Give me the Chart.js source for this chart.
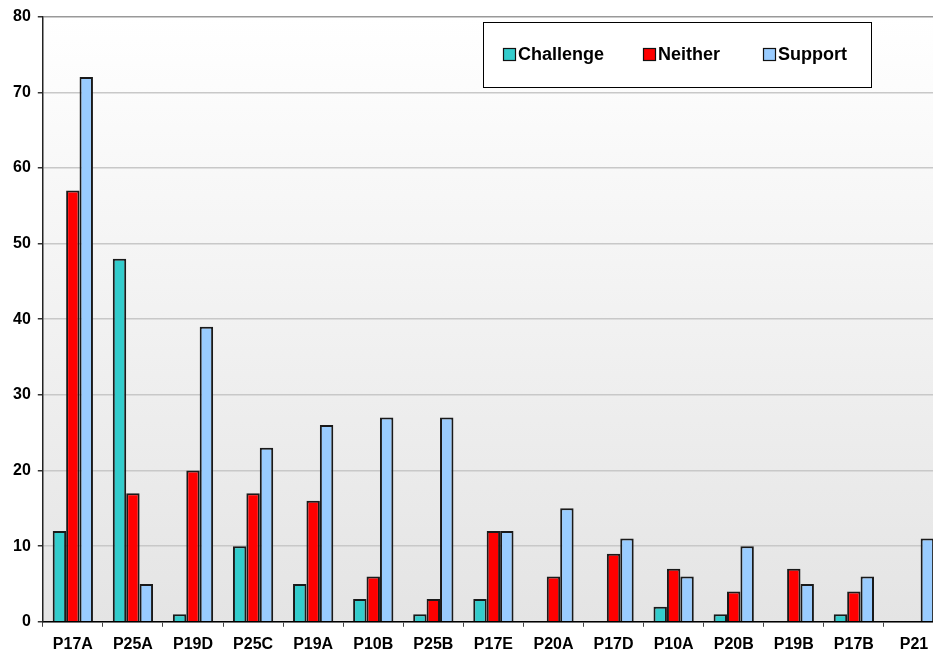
<!DOCTYPE html>
<html>
<head>
<meta charset="utf-8">
<script src="https://cdn.jsdelivr.net/npm/chart.js@4.4.1/dist/chart.umd.min.js"></script>
<style>
  html, body { margin: 0; padding: 0; background: #fff; overflow: hidden; }
  #wrap { position: relative; width: 948px; height: 662px; }
</style>
</head>
<body>
<div id="wrap"><canvas id="chart"></canvas></div>
<script>
// categories and series values
const categories = ['P17A', 'P25A', 'P19D', 'P25C', 'P19A', 'P10B', 'P25B', 'P17E',
                    'P20A', 'P17D', 'P10A', 'P20B', 'P19B', 'P17B', 'P21'];
const challenge = [12, 48, 1, 10, 5, 3, 1, 3, 0, 0, 2, 1, 0, 1, 0];
const neither   = [57, 17, 20, 17, 16, 6, 3, 12, 6, 9, 7, 4, 7, 4, 0];
const support   = [72, 5, 39, 23, 26, 27, 27, 12, 15, 11, 6, 10, 5, 6, 11];
const yTicks = [0, 10, 20, 30, 40, 50, 60, 70, 80];

const FONT = '"Liberation Sans", Arial, sans-serif';

// grey gradient behind the plot area
const backdrop = {
  id: 'backdrop',
  beforeDraw(chart) {
    const { ctx, chartArea: a } = chart;
    const g = ctx.createLinearGradient(0, a.top, 0, a.bottom);
    g.addColorStop(0, '#ffffff');
    g.addColorStop(1, '#e4e4e4');
    ctx.save();
    ctx.fillStyle = g;
    ctx.fillRect(a.left, a.top, a.right - a.left, a.bottom - a.top);
    ctx.restore();
  }
};

// boxed legend in the upper right
const boxLegend = {
  id: 'boxLegend',
  afterDraw(chart) {
    const ctx = chart.ctx;
    ctx.save();
    ctx.fillStyle = '#fff';
    ctx.fillRect(483, 22, 388, 65);
    ctx.strokeStyle = '#000';
    ctx.lineWidth = 1;
    ctx.strokeRect(483.5, 22.5, 388, 65);
    const xs = [503, 643, 763];
    ctx.font = 'bold 18px ' + FONT;
    ctx.textBaseline = 'middle';
    chart.data.datasets.forEach((ds, i) => {
      ctx.fillStyle = ds.backgroundColor;
      ctx.fillRect(xs[i], 48, 12, 12);
      ctx.strokeStyle = '#111';
      ctx.lineWidth = 1.2;
      ctx.strokeRect(xs[i] + 0.5, 48.5, 12, 12);
      ctx.fillStyle = '#000';
      ctx.fillText(ds.label, xs[i] + 15, 55);
    });
    ctx.restore();
  }
};

new Chart(document.getElementById('chart'), {
  type: 'bar',
  data: {
    labels: categories,
    datasets: [
      { label: 'Challenge', data: challenge, backgroundColor: '#33CCCC' },
      { label: 'Neither', data: neither, backgroundColor: '#FF0000' },
      { label: 'Support', data: support, backgroundColor: '#99CCFF' }
    ]
  },
  options: {
    responsive: true,
    maintainAspectRatio: false,
    animation: false,
    layout: { padding: { left: 6, right: 4, top: 7, bottom: 0 } },
    datasets: {
      bar: {
        borderColor: '#1a1a1a',
        borderWidth: 2,
        borderSkipped: 'bottom',
        categoryPercentage: 0.67,
        barPercentage: 1.0
      }
    },
    plugins: {
      legend: { display: false },
      tooltip: { enabled: false }
    },
    scales: {
      x: {
        grid: {
          display: true,
          drawOnChartArea: false,
          drawTicks: true,
          tickLength: 5,
          tickColor: '#444',
          offset: true
        },
        border: { display: true, color: '#000', width: 1.5 },
        ticks: {
          color: '#000',
          padding: 8,
          maxRotation: 0,
          autoSkip: false,
          font: { family: FONT, size: 16, weight: 'bold' }
        }
      },
      y: {
        min: 0,
        max: 80,
        afterBuildTicks(axis) {
          axis.ticks = yTicks.map(v => ({ value: v }));
        },
        grid: {
          color: ctx => (ctx.tick && ctx.tick.value === 80) ? '#999' : '#c8c8c8',
          lineWidth: 1.5,
          tickLength: 5,
          tickColor: '#333'
        },
        border: { display: true, color: '#222', width: 1.5 },
        ticks: {
          color: '#000',
          padding: 7,
          font: { family: FONT, size: 16, weight: 'bold' }
        }
      }
    }
  },
  plugins: [backdrop, boxLegend]
});
</script>
</body>
</html>
